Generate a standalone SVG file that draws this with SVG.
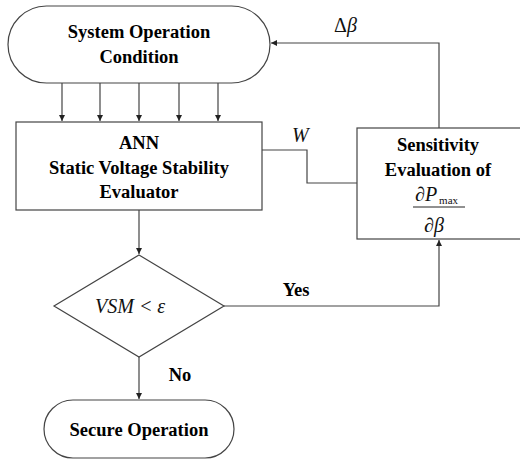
<svg xmlns="http://www.w3.org/2000/svg" width="520" height="460" viewBox="0 0 520 460">
<style>
.shape{fill:#fff;stroke:#444;stroke-width:1.2}
.line{fill:none;stroke:#444;stroke-width:1.2}
.t{font-weight:bold;font-size:18.5px;fill:#000;text-anchor:middle}
.m{font-style:italic;font-size:20px;fill:#111}
</style>
<defs>
<marker id="ah" markerWidth="8" markerHeight="8" refX="6" refY="3" orient="auto" markerUnits="userSpaceOnUse">
<path d="M0,0 L6,3 L0,6 z" fill="#222"/>
</marker>
</defs>
<rect width="520" height="460" fill="#fff"/>
<g font-family="Liberation Serif, DejaVu Serif, serif">
<g id="connectors">
<line class="line" x1="62" y1="83" x2="62" y2="121" marker-end="url(#ah)"/>
<line class="line" x1="100" y1="83" x2="100" y2="121" marker-end="url(#ah)"/>
<line class="line" x1="139" y1="83" x2="139" y2="121" marker-end="url(#ah)"/>
<line class="line" x1="179" y1="83" x2="179" y2="121" marker-end="url(#ah)"/>
<line class="line" x1="218" y1="83" x2="218" y2="121" marker-end="url(#ah)"/>
<line class="line" x1="139" y1="210" x2="139" y2="254" marker-end="url(#ah)"/>
<line class="line" x1="139" y1="357" x2="139" y2="399" marker-end="url(#ah)"/>
<polyline class="line" points="224,306 439,306 439,240" marker-end="url(#ah)"/>
<polyline class="line" points="258,150 307,150 307,183 357,183"/>
<polyline class="line" points="439,128 439,43 271,43" marker-end="url(#ah)"/>
<text class="m" x="334" y="32"><tspan font-style="normal">Δ</tspan>β</text>
<text class="m" x="292" y="142">W</text>
<text class="t" x="296" y="296">Yes</text>
<text class="t" x="180" y="381">No</text>
</g>
<g id="system-operation">
<rect class="shape" x="8" y="6" width="262" height="77" rx="38.5" ry="38.5"/>
<text class="t" x="139" y="38">System Operation</text>
<text class="t" x="139" y="63">Condition</text>
</g>
<g id="ann">
<rect class="shape" x="16" y="122" width="246" height="88"/>
<text class="t" x="139" y="149">ANN</text>
<text class="t" x="139" y="174">Static Voltage Stability</text>
<text class="t" x="139" y="198">Evaluator</text>
</g>
<g id="sensitivity">
<rect class="shape" x="357" y="128" width="170" height="111"/>
<text class="t" x="438" y="151">Sensitivity</text>
<text class="t" x="438" y="176">Evaluation of</text>
<text class="m" x="415" y="201" font-size="23">∂P<tspan font-style="normal" font-size="11" dy="3" dx="2">max</tspan></text>
<line x1="413" y1="207" x2="465" y2="207" stroke="#222" stroke-width="1"/>
<text class="m" x="424" y="232" font-size="23">∂β</text>
</g>
<g id="decision">
<polygon class="shape" points="139,255 224,306 139,357 54,306"/>
<text class="m" x="95" y="313">VSM  &lt; ε</text>
</g>
<g id="secure">
<rect class="shape" x="44" y="400" width="190" height="58" rx="29" ry="29"/>
<text class="t" x="139" y="436">Secure Operation</text>
</g>
</g>
</svg>
